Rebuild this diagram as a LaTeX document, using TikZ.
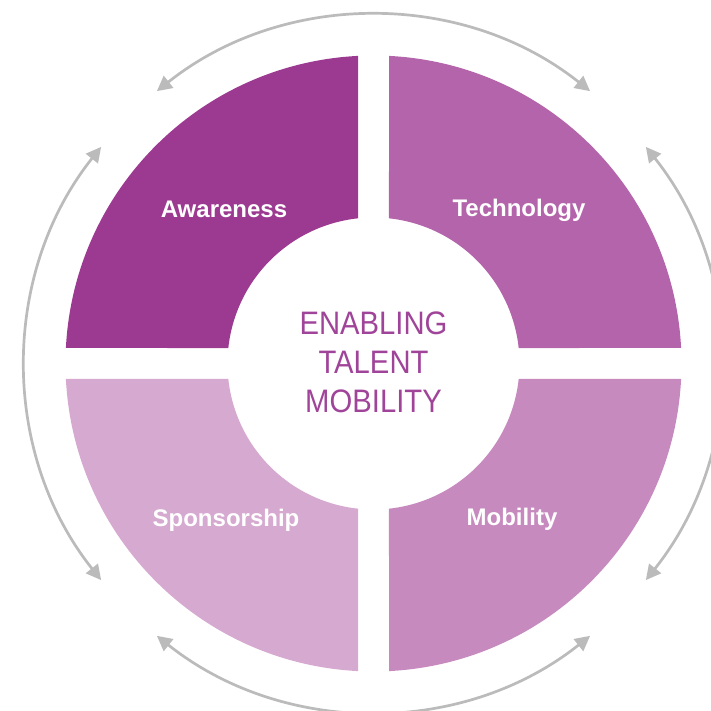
\documentclass[tikz,border=0pt]{standalone}
\usepackage{fontspec}
\setmainfont{Liberation Sans}
\newfontfamily\hubfont[FakeStretch=0.9]{Liberation Sans}
\usetikzlibrary{arrows.meta}
\definecolor{awarefill}{HTML}{9C3A91}
\definecolor{techfill}{HTML}{B364AB}
\definecolor{sponsfill}{HTML}{D6A9D0}
\definecolor{mobfill}{HTML}{C78ABF}
\definecolor{hubtext}{HTML}{A0449A}
\definecolor{cyclegray}{HTML}{BBBBBB}

\begin{document}
\begin{tikzpicture}[x=1pt, y=1pt, every node/.style={inner sep=0pt},
    quadlabel/.style={text=white, anchor=base, font=\bfseries\fontsize{24}{24}\selectfont},
    cyclearrow/.style={draw=cyclegray, line width=2.7pt, >={Triangle[length=15pt,width=15pt]}, <->}]
                \useasboundingbox (-373.5,-347.5) rectangle (336.5,363.5);
                % four quadrants of the ring
                \fill[techfill] (83.906:146) -- (87.115:308) arc[start angle=87.115, end angle=2.885, radius=308] -- (6.094:146) arc[start angle=6.094, end angle=83.906, radius=146] -- cycle;
                \fill[awarefill] (173.906:146) -- (177.115:308) arc[start angle=177.115, end angle=92.885, radius=308] -- (96.094:146) arc[start angle=96.094, end angle=173.906, radius=146] -- cycle;
                \fill[sponsfill] (263.906:146) -- (267.115:308) arc[start angle=267.115, end angle=182.885, radius=308] -- (186.094:146) arc[start angle=186.094, end angle=263.906, radius=146] -- cycle;
                \fill[mobfill] (353.906:146) -- (357.115:308) arc[start angle=357.115, end angle=272.885, radius=308] -- (276.094:146) arc[start angle=276.094, end angle=353.906, radius=146] -- cycle;
                \node[quadlabel] (aware) at (-149.5,146.2) {Awareness};
                \node[quadlabel] (tech) at (145.5,146.5) {Technology};
                \node[quadlabel] (spons) at (-147.5,-162.5) {Sponsorship};
                \node[quadlabel] (mob) at (138.5,-162.1) {Mobility};
                \node[align=center, text=hubtext, font=\hubfont\fontsize{32.5}{39}\selectfont] (hub) at (0,1) {ENABLING\\TALENT\\MOBILITY};
                % cycle arrows
                \draw[cyclearrow] (51.5:348) arc[start angle=51.5, end angle=128.5, radius=348];
                \draw[cyclearrow] (141.5:348) arc[start angle=141.5, end angle=218.5, radius=348];
                \draw[cyclearrow] (231.5:348) arc[start angle=231.5, end angle=308.5, radius=348];
                \draw[cyclearrow] (321.5:348) arc[start angle=321.5, end angle=398.5, radius=348];
            \end{tikzpicture}
\end{document}
